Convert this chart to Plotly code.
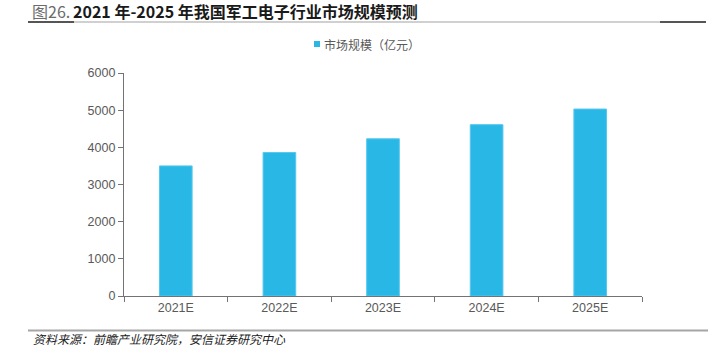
import plotly.graph_objects as go

categories = ["2021E", "2022E", "2023E", "2024E", "2025E"]
market_size = [3500, 3860, 4230, 4610, 5030]
series_name = "市场规模（亿元）"
fig_label = "图26."
title_text = "2021 年-2025 年我国军工电子行业市场规模预测"
source_text = "资料来源：前瞻产业研究院，安信证券研究中心"
y_ticks = [0, 1000, 2000, 3000, 4000, 5000, 6000]

W, H = 723, 358
L, R, T, B = 124, 81, 73, 62
pw, ph = W - L - R, H - T - B


def px(x):
    return (x - L) / pw


def py(y):
    return (H - B - y) / ph


bar_color = "#29B8E6"
axis_color = "#737373"
label_color = "#595959"
cjk = "Noto Sans CJK SC"

fig = go.Figure()
fig.add_trace(go.Bar(
    x=categories, y=market_size, name=series_name,
    marker=dict(color=bar_color, line=dict(color="#55C8EE", width=1)),
    showlegend=False,
))

fig.update_layout(
    width=W, height=H,
    margin=dict(l=L, r=R, t=T, b=B, pad=0),
    paper_bgcolor="white", plot_bgcolor="white",
    bargap=0.685,
    font=dict(family="Liberation Sans, Arial", size=12.5, color=label_color),
    xaxis=dict(
        showline=True, linecolor=axis_color, linewidth=1.3,
        ticks="outside", tickson="boundaries", ticklen=5, tickcolor=axis_color,
        tickwidth=1.3, showgrid=False, zeroline=False,
        tickfont=dict(size=12.5, color=label_color),
    ),
    yaxis=dict(
        range=[0, 6000], tickvals=y_ticks, showline=True, linecolor=axis_color,
        linewidth=1.3, ticks="outside", ticklen=5, tickcolor=axis_color,
        tickwidth=1.3, showgrid=False, zeroline=False,
        tickfont=dict(size=12.5, color=label_color),
    ),
)

shapes = [
    # title underline
    dict(type="line", xref="paper", yref="paper", x0=px(28), x1=px(706),
         y0=py(22), y1=py(22), line=dict(color="#d0d0d0", width=2)),
    dict(type="line", xref="paper", yref="paper", x0=px(28), x1=px(74),
         y0=py(22), y1=py(22), line=dict(color="#555555", width=2)),
    dict(type="line", xref="paper", yref="paper", x0=px(660), x1=px(706),
         y0=py(22), y1=py(22), line=dict(color="#555555", width=2)),
    # bottom line
    dict(type="line", xref="paper", yref="paper", x0=px(28), x1=px(708),
         y0=py(330.5), y1=py(330.5), line=dict(color="#a6a6a6", width=2)),
    # legend square
    dict(type="rect", xref="paper", yref="paper", x0=px(314), x1=px(320),
         y0=py(47), y1=py(41), line=dict(width=0), fillcolor=bar_color),
]
fig.update_layout(shapes=shapes)

annotations = [
    dict(text=fig_label, x=px(30), y=py(11.5), xref="paper", yref="paper",
         xanchor="left", yanchor="middle", showarrow=False,
         font=dict(family=cjk, size=16, color="#6b6b6b")),
    dict(text="<b>" + title_text + "</b>", x=px(71), y=py(11.5), xref="paper",
         yref="paper", xanchor="left", yanchor="middle", showarrow=False,
         font=dict(family=cjk, size=16, color="#1a1a1a")),
    dict(text=series_name, x=px(322), y=py(44), xref="paper", yref="paper",
         xanchor="left", yanchor="middle", showarrow=False,
         font=dict(family=cjk, size=12, color=label_color)),
    dict(text="<i>" + source_text + "</i>", x=px(31), y=py(338.5), xref="paper",
         yref="paper", xanchor="left", yanchor="middle", showarrow=False,
         font=dict(family=cjk, size=12, color="#222222")),
]
fig.update_layout(annotations=annotations)

fig.write_html(
    "out.html",
    config={"displayModeBar": False},
    post_script="document.body.style.margin='0';document.body.style.overflow='hidden';",
)
